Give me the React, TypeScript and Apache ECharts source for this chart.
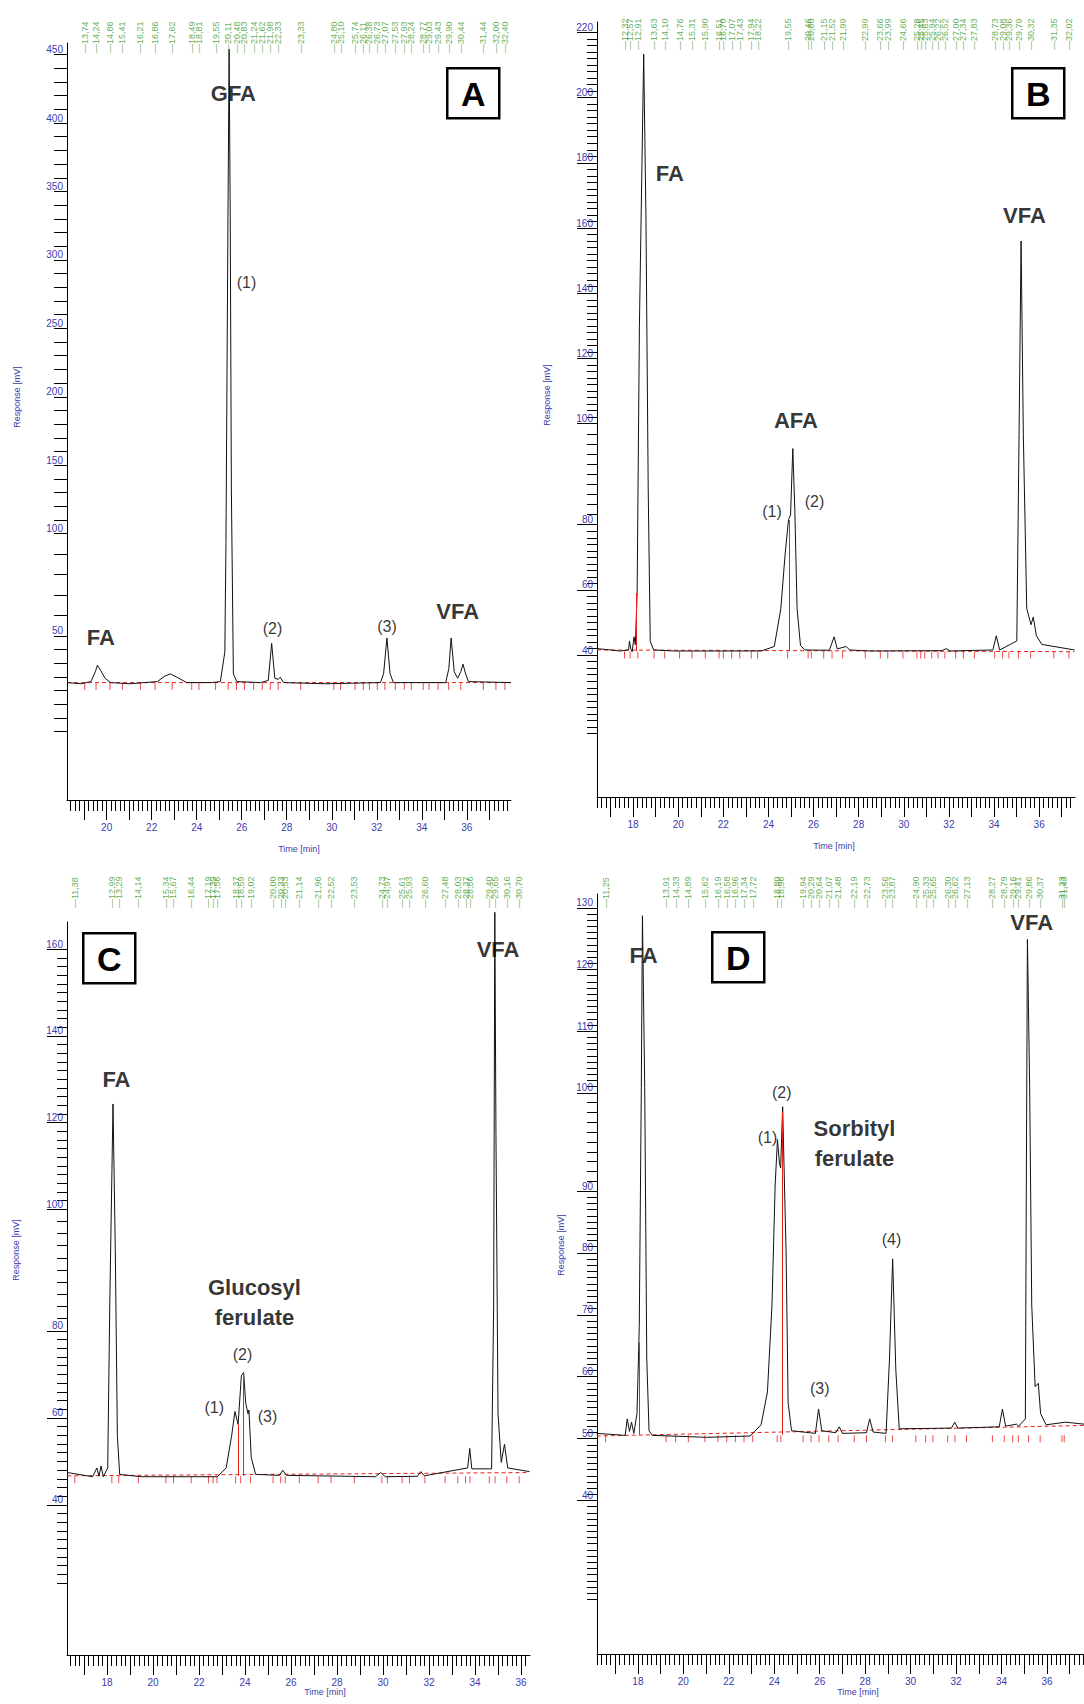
import React, { useEffect, useRef } from "react";
import * as echarts from "echarts";

const FONT = "'Liberation Sans', Arial, Helvetica, sans-serif";
const BLUE = "#3c3cae";
const GREEN = "#3a9a2a";
const RED = "#e8201c";

// ---------------- Panel A ----------------
const aTime = [18.24, 18.87, 19.3, 19.5, 19.59, 19.74, 19.93, 20.17, 21.04, 22.25, 22.59, 22.83, 23.12, 23.56, 24.67, 25.05, 25.25, 25.3, 25.39, 25.44, 25.49, 25.54, 25.63, 25.78, 26.84, 27.18, 27.33, 27.47, 27.62, 27.71, 27.86, 29.74, 32.16, 32.3, 32.45, 32.59, 32.74, 35.06, 35.2, 35.3, 35.44, 35.59, 35.73, 35.83, 35.93, 36.07, 37.96];
const aSignal = [17.8, 17.0, 18.5, 25.3, 29.8, 26.0, 20.8, 17.8, 17.0, 18.5, 22.3, 23.8, 21.5, 17.8, 17.8, 18.5, 38.8, 113.7, 338.4, 453.7, 338.0, 151.0, 23.8, 18.5, 17.8, 19.3, 44.8, 20.8, 20.0, 21.5, 17.8, 17.0, 17.8, 23.8, 48.5, 23.8, 17.8, 17.8, 27.5, 48.5, 25.3, 20.8, 25.3, 30.5, 24.5, 18.5, 17.8];
const aRetention = [13.74, 14.24, 14.86, 15.41, 16.21, 16.86, 17.62, 18.49, 18.81, 19.55, 20.11, 20.48, 20.83, 21.24, 21.62, 21.98, 22.33, 23.33, 24.8, 25.1, 25.74, 26.11, 26.38, 26.73, 27.07, 27.53, 27.93, 28.24, 28.77, 29.03, 29.43, 29.9, 30.44, 31.44, 32.0, 32.4];
const aYLabels = [50, 100, 150, 200, 250, 300, 350, 400, 450];
// where each printed tick label sits on the trace scale
const aYLabelAt = [50.0, 120.3, 167.4, 214.5, 261.6, 308.7, 355.8, 402.9, 450.0];
const aBaseTime = [18.24, 37.96];
const aBaseSignal = [17.8, 17.8];
const aDropTime: number[] = [];
const aDropTop: number[] = [];
const aNoteText = ["FA", "GFA", "(1)", "(2)", "(3)", "VFA"];
const aNoteTime = [19.74, 25.63, 26.21, 27.37, 32.45, 35.59];
const aNoteSignal = [48.5, 423, 293.4, 55.2, 56.7, 66.5];

// ---------------- Panel B ----------------
const bTime = [16.4, 17.41, 17.8, 17.84, 17.9, 17.96, 18.04, 18.1, 18.18, 18.28, 18.47, 18.57, 18.67, 18.76, 18.91, 19.82, 23.68, 24.26, 24.55, 24.74, 24.89, 24.98, 25.08, 25.17, 25.27, 25.42, 25.61, 26.7, 26.91, 27.05, 27.45, 27.6, 28.5, 31.7, 31.88, 32.05, 33.95, 34.1, 34.25, 35.01, 35.11, 35.2, 35.3, 35.45, 35.64, 35.74, 35.88, 36.12, 37.57];
const bSignal = [41.9, 41.2, 41.5, 44.1, 41.8, 41.0, 45.3, 43.0, 58.2, 135.2, 213.7, 166.6, 88.0, 44.0, 41.5, 41.2, 41.2, 42.5, 53.5, 69.2, 79.2, 80.5, 99.7, 81.8, 53.5, 42.8, 41.5, 41.4, 45.3, 41.8, 42.5, 41.5, 41.2, 41.3, 41.9, 41.2, 41.5, 45.6, 41.5, 44.1, 103.7, 159.7, 103.7, 53.5, 48.8, 51.0, 45.6, 43.1, 41.5];
const bRetention = [12.32, 12.57, 12.91, 13.63, 14.1, 14.76, 15.31, 15.9, 16.51, 16.7, 17.07, 17.43, 17.94, 18.22, 19.55, 20.46, 20.6, 21.15, 21.52, 21.99, 22.99, 23.66, 23.99, 24.66, 25.28, 25.45, 25.63, 25.94, 26.22, 26.52, 27.0, 27.34, 27.83, 28.73, 29.08, 29.36, 29.79, 30.32, 31.35, 32.02];
const bYLabels = [40, 60, 80, 100, 120, 140, 160, 180, 200, 220];
const bYLabelAt = [40.0, 58.85, 77.7, 106.9, 125.75, 144.6, 163.45, 182.3, 201.15, 220.0];
const bBaseTime = [16.4, 37.57];
const bBaseSignal = [41.5, 41.0];
const bDropTime = [18.14, 24.93];
const bDropTop = [58, 79];
const bNoteText = ["FA", "AFA", "(1)", "(2)", "VFA"];
const bNoteTime = [19.63, 25.22, 24.16, 26.04, 35.35];
const bNoteSignal = [179.2, 107.8, 81.4, 84.3, 167.2];

// ---------------- Panel C ----------------
const cTime = [16.28, 17.37, 17.56, 17.65, 17.74, 17.84, 18.03, 18.12, 18.26, 18.36, 18.45, 18.55, 19.49, 22.8, 23.18, 23.42, 23.56, 23.7, 23.84, 23.94, 24.03, 24.13, 24.17, 24.27, 24.46, 25.5, 25.64, 25.8, 29.66, 29.9, 30.1, 31.5, 31.64, 31.8, 33.68, 33.77, 33.86, 34.72, 34.81, 34.86, 34.91, 35.0, 35.14, 35.28, 35.42, 36.37];
const cSignal = [47.0, 46.1, 48.0, 46.2, 48.4, 46.1, 48.0, 83.2, 126.6, 94.9, 55.0, 46.6, 46.1, 46.1, 48.0, 55.0, 60.2, 57.4, 67.9, 68.6, 62.0, 59.7, 60.5, 50.3, 46.6, 46.4, 47.5, 46.4, 46.1, 47.0, 46.1, 46.2, 47.2, 46.3, 48.0, 52.2, 47.8, 47.8, 83.2, 168.0, 120.0, 59.7, 49.2, 53.1, 48.0, 47.2];
const cRetention = [11.38, 12.99, 13.29, 14.14, 15.34, 15.67, 16.44, 17.19, 17.39, 17.56, 18.37, 18.59, 19.02, 20.0, 20.33, 20.53, 21.14, 21.96, 22.52, 23.53, 24.73, 24.97, 25.61, 25.93, 26.6, 27.48, 28.03, 28.37, 28.56, 29.4, 29.65, 30.16, 30.7, 31.96];
const cYLabels = [40, 60, 80, 100, 120, 140, 160];
const cYLabelAt = [40.0, 58.8, 77.6, 103.9, 122.6, 141.3, 160.0];
const cBaseTime = [16.28, 36.37];
const cBaseSignal = [46.3, 47.0];
const cDropTime = [23.7, 23.94];
const cDropTop = [57.4, 68.6];
const cNoteText = ["FA", "Glucosyl\nferulate", "(1)", "(2)", "(3)", "VFA"];
const cNoteTime = [18.41, 24.41, 22.66, 23.89, 24.98, 35.0];
const cNoteSignal = [131.8, 83.7, 61.1, 72.4, 59.0, 160.0];

// ---------------- Panel D ----------------
const dTime = [16.19, 17.44, 17.53, 17.63, 17.72, 17.82, 17.96, 18.06, 18.15, 18.2, 18.3, 18.39, 18.49, 18.63, 21.02, 22.94, 23.42, 23.7, 23.9, 24.04, 24.14, 24.23, 24.28, 24.37, 24.47, 24.52, 24.61, 24.76, 25.81, 25.95, 26.09, 26.71, 26.86, 27.0, 28.06, 28.2, 28.35, 28.92, 29.07, 29.21, 29.35, 29.5, 31.8, 31.94, 32.08, 33.9, 34.04, 34.18, 34.66, 34.76, 35.05, 35.09, 35.14, 35.24, 35.33, 35.48, 35.62, 35.72, 35.96, 36.82, 37.63];
const dSignal = [50.2, 49.9, 52.4, 50.5, 51.9, 50.2, 53.2, 66.4, 102.7, 128.8, 102.7, 61.5, 50.6, 49.9, 49.6, 49.8, 51.5, 56.5, 69.7, 87.9, 94.8, 91.2, 90.5, 99.8, 85.0, 77.9, 54.9, 50.6, 50.2, 53.9, 50.6, 50.3, 51.2, 50.2, 50.3, 52.4, 50.4, 50.2, 61.5, 76.7, 59.8, 50.9, 51.0, 51.9, 51.0, 51.2, 53.9, 51.3, 51.6, 51.3, 52.4, 86.2, 125.2, 102.7, 69.7, 57.3, 57.8, 53.2, 51.5, 51.9, 51.6];
const dRetention = [11.25, 13.91, 14.33, 14.89, 15.62, 16.19, 16.58, 16.96, 17.34, 17.72, 18.8, 18.96, 19.94, 20.29, 20.64, 21.07, 21.48, 22.19, 22.73, 23.56, 23.87, 24.9, 25.33, 25.65, 26.3, 26.62, 27.13, 28.27, 28.79, 29.16, 29.41, 29.86, 30.37, 31.33, 31.43];
const dYLabels = [40, 50, 60, 70, 80, 90, 100, 110, 120, 130];
const dYLabelAt = [40.0, 49.4, 58.8, 68.2, 77.6, 87.0, 101.9, 111.27, 120.63, 130.0];
const dBaseTime = [16.19, 37.63];
const dBaseSignal = [49.8, 51.4];
const dDropTime = [18.06, 24.37];
const dDropTop = [64, 99];
const dNoteText = ["FA", "(1)", "(2)", "Sorbityl\nferulate", "(3)", "(4)", "VFA"];
const dNoteTime = [18.25, 23.7, 24.33, 27.53, 26.0, 29.16, 35.33];
const dNoteSignal = [122.7, 95.2, 101.9, 94.2, 57.0, 79.6, 127.7];

// panel letter boxes and axis titles (page pixels)
const boxLetters = ["A", "B", "C", "D"];
const boxX = [446, 1011, 82, 711];
const boxY = [67, 67, 932, 931];
const timeTitleX = [299, 834, 325, 858];
const timeTitleY = [849, 846, 1692, 1692];
const respTitleX = [17, 547, 16, 561];
const respTitleY = [397, 395, 1250, 1245];

type Panel = {
  grid: { left: number; top: number; right: number; bottom: number };
  labelBottom: number;
  xMin: number; xMax: number; yMin: number; yMax: number;
  yLabels: number[]; yLabelAt: number[]; yParts: number; yTickFrom: number;
  majorLen: number; minorLen: number;
  time: number[]; signal: number[];
  rts: number[]; rtShift: number; base: number;
  baseTime: number[]; baseSignal: number[];
  dropTime: number[]; dropTop: number[];
  noteText: string[]; noteTime: number[]; noteSignal: number[];
};

const panels: Panel[] = [
  { grid: { left: 67, top: 43, right: 573, bottom: 904 }, labelBottom: 53, xMin: 18.24, xMax: 37.96, yMin: -63, yMax: 458,
    yLabels: aYLabels, yLabelAt: aYLabelAt, yParts: 5, yTickFrom: -20, majorLen: 13, minorLen: 13, time: aTime, signal: aSignal,
    rts: aRetention, rtShift: 5.29, base: 17.8, baseTime: aBaseTime, baseSignal: aBaseSignal, dropTime: aDropTime, dropTop: aDropTop,
    noteText: aNoteText, noteTime: aNoteTime, noteSignal: aNoteSignal },
  { grid: { left: 597, top: 22, right: 9, bottom: 907 }, labelBottom: 50, xMin: 16.4, xMax: 37.59, yMin: -1, yMax: 223,
    yLabels: bYLabels, yLabelAt: bYLabelAt, yParts: 10, yTickFrom: 16, majorLen: 20, minorLen: 10, time: bTime, signal: bSignal,
    rts: bRetention, rtShift: 5.3, base: 41.2, baseTime: bBaseTime, baseSignal: bBaseSignal, dropTime: bDropTime, dropTop: bDropTop,
    noteText: bNoteText, noteTime: bNoteTime, noteSignal: bNoteSignal },
  { grid: { left: 67, top: 922, right: 554, bottom: 49 }, labelBottom: 908, xMin: 16.26, xMax: 36.39, yMin: 7.6, yMax: 165.9,
    yLabels: cYLabels, yLabelAt: cYLabelAt, yParts: 10, yTickFrom: 22, majorLen: 20, minorLen: 10, time: cTime, signal: cSignal,
    rts: cRetention, rtShift: 5.22, base: 46.3, baseTime: cBaseTime, baseSignal: cBaseSignal, dropTime: cDropTime, dropTop: cDropTop,
    noteText: cNoteText, noteTime: cNoteTime, noteSignal: cNoteSignal },
  { grid: { left: 597, top: 894, right: 0, bottom: 50 }, labelBottom: 908, xMin: 16.2, xMax: 37.63, yMin: 16.7, yMax: 132.1,
    yLabels: dYLabels, yLabelAt: dYLabelAt, yParts: 10, yTickFrom: 25, majorLen: 20, minorLen: 10, time: dTime, signal: dSignal,
    rts: dRetention, rtShift: 5.33, base: 50.0, baseTime: dBaseTime, baseSignal: dBaseSignal, dropTime: dDropTime, dropTop: dDropTop,
    noteText: dNoteText, noteTime: dNoteTime, noteSignal: dNoteSignal },
];

function steps(from: number, to: number, step: number): number[] {
  const out: number[] = [];
  for (let k = 0; from + k * step <= to + 1e-9; k++) out.push(Math.round((from + k * step) * 1000) / 1000);
  return out;
}

// minor tick positions: each labelled interval split evenly, continued below the lowest label
function yMinorTicks(at: number[], parts: number, from: number): number[] {
  const out: number[] = [];
  const n = at.length;
  const step = (at[n - 1] - at[n - 2]) / parts;
  for (let k = 1; at[0] - k * step >= from - 1e-9; k++) out.push(at[0] - k * step);
  for (let k = 0; k < n - 1; k++) for (let j = 1; j < parts; j++) out.push(at[k] + ((at[k + 1] - at[k]) * j) / parts);
  return out;
}

function buildOption() {
  const grid: any[] = [];
  const xAxis: any[] = [];
  const yAxis: any[] = [];
  const series: any[] = [];
  panels.forEach((p, i) => {
    grid.push({ ...p.grid });
    grid.push({ left: p.grid.left, right: p.grid.right, top: p.labelBottom - 10, height: 10 });
    const xMajor = steps(Math.ceil(p.xMin), Math.floor(p.xMax), 1);
    const xLab = xMajor.filter((v) => v % 2 === 0);
    const xMinor = steps(Math.ceil(p.xMin * 5) / 5, p.xMax, 0.2);
    const yMinor = yMinorTicks(p.yLabelAt, p.yParts, p.yTickFrom);
    const yText = (v: number) => {
      let best = 0;
      p.yLabelAt.forEach((a, k) => { if (Math.abs(a - v) < Math.abs(p.yLabelAt[best] - v)) best = k; });
      return String(p.yLabels[best]);
    };
    xAxis.push({
      type: "value", gridIndex: 2 * i, min: p.xMin, max: p.xMax, position: "bottom",
      axisLine: { show: true, onZero: false, lineStyle: { color: "#000", width: 1 } },
      axisTick: { show: true, customValues: xMajor, length: 20, lineStyle: { color: "#000", width: 1 } },
      axisLabel: { show: true, customValues: xLab, margin: 22, color: BLUE, fontSize: 10, fontFamily: FONT,
        formatter: (v: number) => String(Math.round(v)) },
      splitLine: { show: false },
    });
    xAxis.push({
      type: "value", gridIndex: 2 * i, min: p.xMin, max: p.xMax, position: "bottom",
      axisLine: { show: false, onZero: false },
      axisTick: { show: true, customValues: xMinor, length: 11, lineStyle: { color: "#000", width: 1 } },
      axisLabel: { show: false }, splitLine: { show: false },
    });
    xAxis.push({ type: "value", gridIndex: 2 * i + 1, min: p.xMin, max: p.xMax, show: false });
    yAxis.push({
      type: "value", gridIndex: 2 * i, min: p.yMin, max: p.yMax, position: "left",
      axisLine: { show: true, onZero: false, lineStyle: { color: "#000", width: 1 } },
      axisTick: { show: true, customValues: p.yLabelAt, length: p.majorLen, lineStyle: { color: "#000", width: 1 } },
      axisLabel: { show: true, customValues: p.yLabelAt, margin: 4, color: BLUE, fontSize: 10, fontFamily: FONT,
        verticalAlign: "bottom", formatter: yText },
      splitLine: { show: false },
    });
    yAxis.push({
      type: "value", gridIndex: 2 * i, min: p.yMin, max: p.yMax, position: "left",
      axisLine: { show: false, onZero: false },
      axisTick: { show: true, customValues: yMinor, length: p.minorLen, lineStyle: { color: "#000", width: 1 } },
      axisLabel: { show: false }, splitLine: { show: false },
    });
    yAxis.push({ type: "value", gridIndex: 2 * i + 1, min: 0, max: 1, show: false });

    const xi = 3 * i;
    series.push({
      type: "line", xAxisIndex: xi, yAxisIndex: xi, silent: true, z: 1,
      data: p.baseTime.map((t, k) => [t, p.baseSignal[k]]), symbol: "none",
      lineStyle: { color: RED, width: 1, type: [4, 3] },
      markLine: {
        silent: true, symbol: ["none", "none"], label: { show: false },
        lineStyle: { color: RED, width: 1, type: "solid" },
        data: p.dropTime.map((t, k) => [{ coord: [t, p.base] }, { coord: [t, p.dropTop[k]] }]),
      },
    });
    series.push({
      type: "scatter", xAxisIndex: xi, yAxisIndex: xi, silent: true, z: 2,
      data: p.rts.map((r) => [r + p.rtShift, p.base]).filter((d) => d[0] >= p.xMin && d[0] <= p.xMax),
      symbol: "rect", symbolSize: [1, 7], symbolOffset: [0, 4], itemStyle: { color: RED },
    });
    series.push({
      type: "line", xAxisIndex: xi, yAxisIndex: xi, silent: true, z: 3, clip: false,
      data: p.time.map((t, k) => [t, p.signal[k]]), symbol: "none",
      lineStyle: { color: "#111", width: 1 },
    });
    series.push({
      type: "scatter", xAxisIndex: xi, yAxisIndex: xi, silent: true, z: 4,
      symbolSize: 1, itemStyle: { color: "rgba(0,0,0,0)" },
      data: p.noteText.map((txt, k) => {
        const paren = txt.startsWith("(");
        return {
          name: txt, value: [p.noteTime[k], p.noteSignal[k]],
          label: {
            show: true, position: "inside", formatter: "{b}", color: "#000", fontFamily: FONT,
            fontSize: paren ? 16 : 22, fontWeight: paren ? "normal" : "bold", lineHeight: paren ? 18 : 30,
            align: "center", verticalAlign: "middle",
          },
        };
      }),
    });
    series.push({
      type: "scatter", xAxisIndex: xi + 2, yAxisIndex: xi + 2, silent: true, z: 4,
      symbolSize: 1, itemStyle: { color: "rgba(0,0,0,0)" },
      data: p.rts
        .map((r) => ({ name: "—" + r.toFixed(2).replace(".", ","), value: [r + p.rtShift, 0] }))
        .filter((d) => d.value[0] >= p.xMin && d.value[0] <= p.xMax + 0.4),
      label: {
        show: true, position: "inside", formatter: "{b}", rotate: 90, align: "left", verticalAlign: "middle",
        color: GREEN, fontSize: 9, fontFamily: FONT,
      },
    });
  });

  const graphic: any[] = [];
  boxLetters.forEach((L, i) => {
    graphic.push({
      type: "group", left: boxX[i], top: boxY[i],
      children: [
        { type: "rect", shape: { x: 0, y: 0, width: 52, height: 50 }, style: { fill: "#fff", stroke: "#000", lineWidth: 2.5 } },
        { type: "text", x: 26, y: 26, style: { text: L, fontSize: 34, fontWeight: "bold", fontFamily: FONT, fill: "#000", align: "center", verticalAlign: "middle" } },
      ],
    });
    graphic.push({ type: "text", x: timeTitleX[i], y: timeTitleY[i], style: { text: "Time [min]", fontSize: 9, fontFamily: FONT, fill: BLUE, align: "center", verticalAlign: "middle" } });
    graphic.push({ type: "text", x: respTitleX[i], y: respTitleY[i], rotation: Math.PI / 2, style: { text: "Response [mV]", fontSize: 9, fontFamily: FONT, fill: BLUE, align: "center", verticalAlign: "middle" } });
  });

  return { animation: false, backgroundColor: "#fff", grid, xAxis, yAxis, series, graphic };
}

export default function App() {
  const ref = useRef<HTMLDivElement>(null);
  useEffect(() => {
    document.body.style.margin = "0";
    const chart = echarts.init(ref.current as HTMLDivElement, null, { renderer: "svg" });
    chart.setOption(buildOption() as any);
    return () => chart.dispose();
  }, []);
  return <div ref={ref} style={{ width: 1084, height: 1704, background: "#fff" }} />;
}
